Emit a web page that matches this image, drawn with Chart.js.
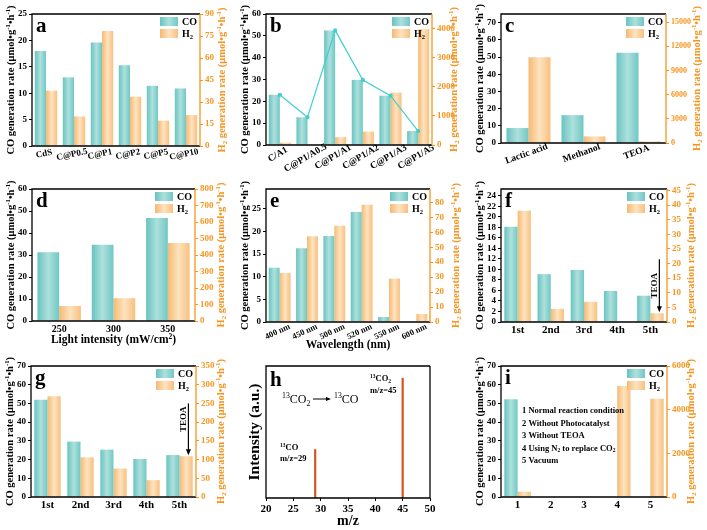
<!DOCTYPE html>
<html>
<head>
<meta charset="utf-8">
<script src="https://cdn.jsdelivr.net/npm/chart.js@4.4.0/dist/chart.umd.min.js"></script>
<style>
html, body { margin: 0; padding: 0; background: #fff; width: 707px; height: 530px; overflow: hidden; }
body { position: relative; }
canvas { position: absolute; }
</style>
</head>
<body>
<script>
// ---- data ----
const catA = ['CdS', 'C@P0.5', 'C@P1', 'C@P2', 'C@P5', 'C@P10'];
const coA = [18.0, 13.0, 19.6, 15.3, 11.4, 10.9];
const h2A = [37.7, 20.2, 78.4, 33.6, 17.3, 21.1];
const leftTicksA = [0, 25, 5];
const rightTicksA = [0, 90, 15];

const catB = ['C/A1', 'C@P1/A0.5', 'C@P1/A1', 'C@P1/A2', 'C@P1/A3', 'C@P1/A5'];
const coB = [23.0, 12.7, 52.5, 29.8, 22.6, 6.4];
const h2B = [80, 0, 270, 460, 1800, 3980];
const leftTicksB = [0, 60, 10];
const rightTicksB = [0, 4500, 1000];

const catC = ['Lactic acid', 'Methanol', 'TEOA'];
const coC = [8.7, 16.2, 52.4];
const h2C = [10630, 820, 200];
const leftTicksC = [0, 75, 10];
const rightTicksC = [0, 16000, 3000];

const catD = ['250', '300', '350'];
const coD = [31.2, 34.7, 46.8];
const h2D = [91, 138, 472];
const leftTicksD = [0, 60, 10];
const rightTicksD = [0, 800, 100];

const catE = ['400 nm', '450 nm', '500 nm', '520 nm', '550 nm', '600 nm'];
const coE = [12.0, 16.3, 19.0, 24.3, 1.1, 0];
const h2E = [32.8, 57.4, 64.4, 78.4, 29.0, 5.4];
const leftTicksE = [0, 29.4, 5];
const rightTicksE = [0, 88.9, 10];

const catF = ['1st', '2nd', '3rd', '4th', '5th'];
const coF = [18.1, 9.1, 9.9, 5.9, 5.0];
const h2F = [38.1, 4.5, 6.9, 0, 3.0];
const leftTicksF = [0, 25.3, 2];
const rightTicksF = [0, 45.5, 5];

const catG = ['1st', '2nd', '3rd', '4th', '5th'];
const coG = [52.0, 29.6, 25.3, 20.3, 22.4];
const h2G = [269, 106, 76, 45, 109];
const leftTicksG = [0, 70, 10];
const rightTicksG = [0, 350, 50];

const mzPeaks = [29, 45];
const peakHeights = [0.37, 0.91];
const mzTicks = [20, 50, 5];

const catI = ['1', '2', '3', '4', '5'];
const coI = [52.2, 0, 0.3, 0, 0];
const h2I = [240, 0, 0, 5080, 4500];
const leftTicksI = [0, 70, 10];
const rightTicksI = [0, 6000, 2000];

const conditionsI = [
  [['1 Normal reaction condition', 'n']],
  [['2 Without Photocatalyst', 'n']],
  [['3 Without TEOA', 'n']],
  [['4 Using N', 'n'], ['2', 'sub'], [' to replace CO', 'n'], ['2', 'sub']],
  [['5 Vacuum', 'n']]
];

// ---- helpers ----
const SERIF = "'Liberation Serif', 'Times New Roman', serif";
const ORANGE_AX = '#f7941d';

function fnt(size, bold) {
  return (bold === false ? '' : 'bold ') + size + 'px ' + SERIF;
}

function rich(ctx, parts, x, y, size, opt) {
  opt = opt || {};
  const bold = opt.bold !== false;
  ctx.save();
  ctx.translate(x, y);
  if (opt.rotate) ctx.rotate(-Math.PI / 2);
  ctx.fillStyle = opt.color || '#000';
  ctx.textBaseline = 'alphabetic';
  ctx.textAlign = 'left';
  let w = 0;
  parts.forEach(([t, k]) => {
    ctx.font = fnt(k === 'n' ? size : size * 0.65, bold);
    w += ctx.measureText(t).width;
  });
  let px = opt.align === 'center' ? -w / 2 : 0;
  const base = opt.middle ? size * 0.35 : 0;
  parts.forEach(([t, k]) => {
    ctx.font = fnt(k === 'n' ? size : size * 0.65, bold);
    const dy = k === 'sup' ? -size * 0.38 : (k === 'sub' ? size * 0.22 : 0);
    ctx.fillText(t, px, base + dy);
    px += ctx.measureText(t).width;
  });
  ctx.restore();
}

function shade(ctx, x0, x1, kind) {
  const g = ctx.createLinearGradient(x0, 0, x1, 0);
  if (kind === 'co') {
    g.addColorStop(0, '#68c4c0');
    g.addColorStop(0.5, '#aee0dd');
    g.addColorStop(1, '#70c8c4');
  } else {
    g.addColorStop(0, '#f6b972');
    g.addColorStop(0.5, '#fde3c0');
    g.addColorStop(1, '#f8c07f');
  }
  return g;
}

const barShade = {
  id: 'barShade',
  beforeDatasetsDraw(chart) {
    const ctx = chart.ctx;
    chart.data.datasets.forEach((ds, i) => {
      const meta = chart.getDatasetMeta(i);
      if (meta.type !== 'bar') return;
      meta.data.forEach(el => {
        const { x, width } = el.getProps(['x', 'width'], true);
        el.options = Object.assign({}, el.options, {
          backgroundColor: shade(ctx, x - width / 2, x + width / 2, ds.shade)
        });
      });
    });
  }
};

const coTitle = [['CO generation rate (μmol•g', 'n'], ['-1', 'sup'], ['•h', 'n'], ['-1', 'sup'], [')', 'n']];
const h2Title = [['H', 'n'], ['2', 'sub'], [' generation rate (μmol•g', 'n'], ['-1', 'sup'], ['•h', 'n'], ['-1', 'sup'], [')', 'n']];

function decoPlugin(p) {
  return {
    id: 'deco',
    afterDraw(chart) {
      const ctx = chart.ctx;
      const ca = chart.chartArea;
      const midY = (ca.top + ca.bottom) / 2;
      const midX = (ca.left + ca.right) / 2;

      // rotated category labels
      if (p.rot) {
        const xs = chart.scales.x;
        ctx.save();
        ctx.font = fnt(p.xFont || 9.5);
        ctx.fillStyle = '#000';
        ctx.textAlign = 'center';
        ctx.textBaseline = 'middle';
        const th = p.rot * Math.PI / 180;
        p.cats.forEach((c, i) => {
          const w = ctx.measureText(c).width;
          const x = xs.getPixelForValue(i) - 2;
          const y = ca.bottom + 7 + (w / 2) * Math.sin(th) * 0.5;
          ctx.save();
          ctx.translate(x, y);
          ctx.rotate(-th);
          ctx.fillText(c, 0, 0);
          ctx.restore();
        });
        ctx.restore();
      }

      // frame
      ctx.save();
      ctx.lineWidth = 1.3;
      ctx.strokeStyle = '#000';
      ctx.beginPath();
      ctx.moveTo(ca.right, ca.top);
      ctx.lineTo(ca.left, ca.top);
      ctx.lineTo(ca.left, ca.bottom);
      ctx.lineTo(ca.right, ca.bottom);
      ctx.stroke();
      ctx.strokeStyle = p.dual ? ORANGE_AX : '#000';
      ctx.beginPath();
      ctx.moveTo(ca.right, ca.top);
      ctx.lineTo(ca.right, ca.bottom);
      ctx.stroke();
      ctx.restore();

      // panel letter
      ctx.save();
      ctx.font = fnt(21);
      ctx.fillStyle = '#000';
      ctx.textBaseline = 'alphabetic';
      ctx.fillText(p.letter, ca.left + 4, ca.top + 18 + (p.letterDy || 0));
      ctx.restore();

      // axis titles
      rich(ctx, p.leftTitle || coTitle, p.lx - p.cx, midY, p.yTitleSize || 10.5, { rotate: true, align: 'center', middle: true });
      if (p.dual) {
        rich(ctx, h2Title, p.rx - p.cx, midY, 10.5, { rotate: true, align: 'center', middle: true, color: ORANGE_AX });
      }
      if (p.xTitle) {
        rich(ctx, p.xTitle, midX, p.xty - p.cy, p.xTitleSize || 11.5, { align: 'center', middle: true });
      }

      // legend
      if (p.dual) {
        const lx = ca.right - 40, ly = ca.top + 3;
        ctx.save();
        ctx.fillStyle = shade(ctx, lx, lx + 18, 'co');
        ctx.fillRect(lx, ly, 18, 9);
        ctx.fillStyle = shade(ctx, lx, lx + 18, 'h2');
        ctx.fillRect(lx, ly + 12, 18, 9);
        ctx.restore();
        rich(ctx, [['CO', 'n']], lx + 22, ly + 4.5, 10, { middle: true });
        rich(ctx, [['H', 'n'], ['2', 'sub']], lx + 22, ly + 16.5, 10, { middle: true });
      }

      if (p.extra) p.extra(ctx, chart);
    }
  };
}

function yScale(pos, ax, width, color, tickSize) {
  const [min, max, step] = ax;
  return {
    position: pos,
    min: min,
    max: max,
    border: { display: false },
    grid: { display: true, drawOnChartArea: false, drawTicks: true, tickLength: 3, lineWidth: 1, color: color },
    ticks: {
      stepSize: step, color: color, autoSkip: false, padding: 2,
      font: { family: SERIF, weight: 'bold', size: tickSize || 9 },
      callback: v => String(v)
    },
    afterBuildTicks(s) {
      const list = [];
      for (let k = 0; min + k * step <= max + 1e-9; k++) {
        list.push({ value: Math.round((min + k * step) * 1000) / 1000 });
      }
      s.ticks = list;
    },
    afterFit(s) { s.width = width; }
  };
}

function makeCanvas(p) {
  const cv = document.createElement('canvas');
  cv.width = p.cw;
  cv.height = p.ch;
  cv.style.left = p.cx + 'px';
  cv.style.top = p.cy + 'px';
  document.body.appendChild(cv);
  return cv;
}

function barPanel(p, cats, co, h2, leftAx, rightAx, extraSets) {
  const cv = makeCanvas(p);
  const leftW = p.L - p.cx, rightW = p.cx + p.cw - p.R;
  const padTop = p.T - p.cy, xH = p.cy + p.ch - p.B;
  p.cats = cats;
  p.dual = true;
  const datasets = [
    { type: 'bar', label: 'CO', data: co, yAxisID: 'y', shade: 'co', backgroundColor: '#8fd4d0',
      categoryPercentage: 0.8, barPercentage: 1, borderWidth: 0, order: 1 },
    { type: 'bar', label: 'H2', data: h2, yAxisID: 'y2', shade: 'h2', backgroundColor: '#f9cd95',
      categoryPercentage: 0.8, barPercentage: 1, borderWidth: 0, order: 1 }
  ].concat(extraSets || []);
  return new Chart(cv.getContext('2d'), {
    type: 'bar',
    data: { labels: cats, datasets: datasets },
    options: {
      responsive: false,
      animation: false,
      events: [],
      layout: { padding: { left: 0, right: 0, top: padTop, bottom: 0 } },
      plugins: { legend: { display: false }, tooltip: { enabled: false } },
      scales: {
        x: {
          type: 'category',
          offset: true,
          border: { display: false },
          grid: { display: false, drawTicks: false },
          ticks: { display: !p.rot, color: '#000', maxRotation: 0, minRotation: 0, autoSkip: false,
                   padding: p.xPad || 2, font: { family: SERIF, weight: 'bold', size: p.xFont || 10 } },
          afterFit(s) { s.height = xH; }
        },
        y: yScale('left', leftAx, leftW, '#000', 9),
        y2: yScale('right', rightAx, rightW, ORANGE_AX, p.rFont || 9)
      }
    },
    plugins: [barShade, decoPlugin(p)]
  });
}

function teoaArrow(ctx, chart, yTopVal, yBotVal, tx) {
  const xs = chart.scales.x, y2 = chart.scales.y2;
  const cw = (chart.chartArea.right - chart.chartArea.left) / chart.data.labels.length;
  const ax = xs.getPixelForValue(4) + 0.27 * cw;
  const yTop = y2.getPixelForValue(yTopVal);
  const yBot = y2.getPixelForValue(yBotVal) - 1;
  ctx.save();
  ctx.strokeStyle = '#000';
  ctx.fillStyle = '#000';
  ctx.lineWidth = 1.2;
  ctx.beginPath();
  ctx.moveTo(ax, yTop);
  ctx.lineTo(ax, yBot - 5);
  ctx.stroke();
  ctx.beginPath();
  ctx.moveTo(ax - 2.5, yBot - 6);
  ctx.lineTo(ax + 2.5, yBot - 6);
  ctx.lineTo(ax, yBot);
  ctx.closePath();
  ctx.fill();
  ctx.restore();
  rich(ctx, [['TEOA', 'n']], ax - 6, (yTop + yBot) / 2 - tx, 9, { rotate: true, align: 'center', middle: true });
}

// ---- panels ----
barPanel({ letter: 'a', cx: 0, cy: 0, cw: 235, ch: 175, L: 32, T: 14, R: 200, B: 146, lx: 10, rx: 221, rot: 12, xFont: 9 },
  catA, coA, h2A, leftTicksA, rightTicksA);

barPanel({ letter: 'b', cx: 235, cy: 0, cw: 235, ch: 175, L: 266, T: 14, R: 432, B: 145, lx: 244, rx: 453, rot: 30 },
  catB, coB, h2B, leftTicksB, rightTicksB,
  [{ type: 'line', label: 'trend', data: coB, yAxisID: 'y', borderColor: '#3fcfcf', backgroundColor: '#3fcfcf',
     borderWidth: 1.2, pointRadius: 1.5, tension: 0, order: 0 }]);

barPanel({ letter: 'c', cx: 470, cy: 0, cw: 237, ch: 175, L: 501, T: 14, R: 666, B: 143, lx: 479, rx: 696, rot: 20, rFont: 8 },
  catC, coC, h2C, leftTicksC, rightTicksC);

barPanel({ letter: 'd', cx: 0, cy: 172, cw: 235, ch: 176, L: 32, T: 189, R: 195, B: 321, lx: 10, rx: 220,
           xTitle: [['Light intensity (mW/cm', 'n'], ['2', 'sup'], [')', 'n']], xty: 339 },
  catD, coD, h2D, leftTicksD, rightTicksD);

barPanel({ letter: 'e', cx: 235, cy: 172, cw: 235, ch: 182, L: 266, T: 189, R: 430, B: 322, lx: 244, rx: 455, rot: 25, xFont: 8.5,
           xTitle: [['Wavelength (nm)', 'n']], xty: 344 },
  catE, coE, h2E, leftTicksE, rightTicksE);

barPanel({ letter: 'f', cx: 470, cy: 172, cw: 237, ch: 176, L: 501, T: 189, R: 667, B: 322, lx: 479, rx: 690, xFont: 11,
           extra: (ctx, chart) => teoaArrow(ctx, chart, 21.5, h2F[4], 0) },
  catF, coF, h2F, leftTicksF, rightTicksF);

barPanel({ letter: 'g', cx: 0, cy: 348, cw: 235, ch: 182, L: 31, T: 366, R: 196, B: 497, lx: 9, rx: 220, xFont: 11,
           extra: (ctx, chart) => teoaArrow(ctx, chart, 250, h2G[4], 10) },
  catG, coG, h2G, leftTicksG, rightTicksG);

barPanel({ letter: 'i', cx: 470, cy: 348, cw: 237, ch: 182, L: 501, T: 366, R: 667, B: 497, lx: 479, rx: 690, xFont: 11,
           extra: (ctx, chart) => {
             const x = 522 - 470;
             const ys = [413, 426, 438, 450.5, 463];
             conditionsI.forEach((parts, k) => rich(ctx, parts, x, ys[k] - 348, 8.5));
           } },
  catI, coI, h2I, leftTicksI, rightTicksI);

// panel h: mass spectrum
(function () {
  const p = { letter: 'h', cx: 235, cy: 348, cw: 235, ch: 182, L: 266, T: 366, R: 430, B: 498, lx: 254,
              leftTitle: [['Intensity (a.u.)', 'n']], yTitleSize: 15.5, letterDy: 2,
              xTitle: [['m/z', 'n']], xty: 520, xTitleSize: 14, dual: false,
              extra: (ctx) => {
                const ox = -235, oy = -348;
                rich(ctx, [['13', 'sup'], ['CO', 'n'], ['2', 'sub']], 282 + ox, 403 + oy, 12, { bold: false });
                ctx.save();
                ctx.strokeStyle = '#000';
                ctx.fillStyle = '#000';
                ctx.lineWidth = 1;
                ctx.beginPath();
                ctx.moveTo(313 + ox, 399 + oy);
                ctx.lineTo(329 + ox, 399 + oy);
                ctx.stroke();
                ctx.beginPath();
                ctx.moveTo(331 + ox, 399 + oy);
                ctx.lineTo(326 + ox, 397 + oy);
                ctx.lineTo(326 + ox, 401 + oy);
                ctx.closePath();
                ctx.fill();
                ctx.restore();
                rich(ctx, [['13', 'sup'], ['CO', 'n']], 334 + ox, 403 + oy, 12, { bold: false });
                rich(ctx, [['13', 'sup'], ['CO', 'n']], 280 + ox, 450 + oy, 8.5);
                rich(ctx, [['m/z=29', 'n']], 280 + ox, 461 + oy, 8.5);
                rich(ctx, [['13', 'sup'], ['CO', 'n'], ['2', 'sub']], 370 + ox, 381 + oy, 8.5);
                rich(ctx, [['m/z=45', 'n']], 370 + ox, 393 + oy, 8.5);
              } };
  const cv = makeCanvas(p);
  const leftW = p.L - p.cx, padTop = p.T - p.cy, xH = p.cy + p.ch - p.B;
  const rightPad = p.cx + p.cw - p.R;
  new Chart(cv.getContext('2d'), {
    type: 'line',
    data: {
      datasets: mzPeaks.map((m, i) => ({
        label: 'm/z ' + m,
        data: [{ x: m, y: 0 }, { x: m, y: peakHeights[i] }],
        borderColor: '#d9531e',
        borderWidth: 2.2,
        pointRadius: 0
      }))
    },
    options: {
      responsive: false,
      animation: false,
      events: [],
      layout: { padding: { left: 0, right: rightPad, top: padTop, bottom: 0 } },
      plugins: { legend: { display: false }, tooltip: { enabled: false } },
      scales: {
        x: {
          type: 'linear',
          min: mzTicks[0], max: mzTicks[1],
          border: { display: false },
          grid: { display: true, drawOnChartArea: false, drawTicks: true, tickLength: 3, color: '#000' },
          ticks: { stepSize: mzTicks[2], color: '#000', padding: 2, font: { family: SERIF, weight: 'bold', size: 11 } },
          afterFit(s) { s.height = xH; }
        },
        y: {
          min: 0, max: 1,
          border: { display: false },
          grid: { display: false },
          ticks: { display: false },
          afterFit(s) { s.width = leftW; }
        }
      }
    },
    plugins: [decoPlugin(p)]
  });
})();
</script>
</body>
</html>
